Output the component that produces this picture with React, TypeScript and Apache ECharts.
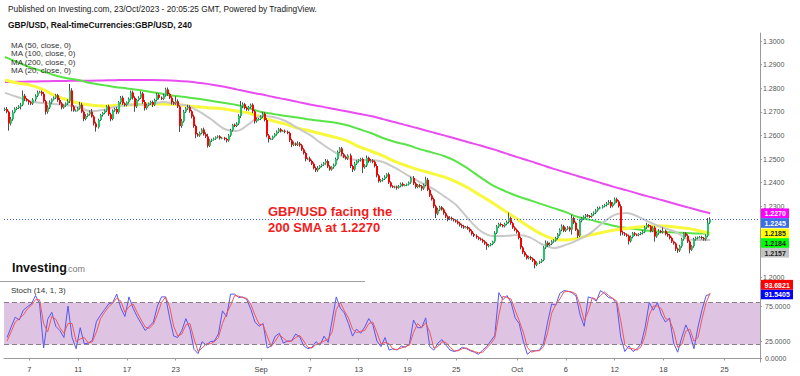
import React, { useEffect, useRef } from 'react';
import * as echarts from 'echarts';

const FONT = '"Liberation Sans", Arial, sans-serif';

// ---------- texts ----------
const headerLine1 = 'Published on Investing.com, 23/Oct/2023 - 20:05:25 GMT, Powered by TradingView.';
const headerLine2 = 'GBP/USD, Real-timeCurrencies:GBP/USD, 240';
const maLegend = ['MA (50, close, 0)', 'MA (100, close, 0)', 'MA (200, close, 0)', 'MA (20, close, 0)'];
const stochTitle = 'Stoch (14, 1, 3)';
const noteLines = ['GBP/USD facing the', '200 SMA at 1.2270'];

// ---------- axis ticks ----------
const tickDays = [2, 6, 10, 14, 21, 25, 29, 33, 37, 42, 46, 50, 54, 59];
const tickLabels = ['7', '11', '17', '23', 'Sep', '7', '13', '19', '25', 'Oct', '6', '12', '18', '25'];
const priceTicks = [1.2, 1.21, 1.22, 1.23, 1.24, 1.25, 1.26, 1.27, 1.28, 1.29, 1.3];
// 1.2100 and 1.2200 sit under the coloured price tags in the reference
const priceLabelTicks = [1.2, 1.23, 1.24, 1.25, 1.26, 1.27, 1.28, 1.29, 1.3];
const stochTicks = [0, 25, 75];
const stochBands = [20, 80];

// ---------- 4h candles (pips above 1.2000), 6 bars per trading day, 3 Aug - 23 Oct 2023 ----------
const firstOpen = 708;
const closes = [
  712, 700, 650, 668, 698, 713,
  716, 722, 730, 768, 755, 748,
  740, 735, 752, 768, 782, 785,
  776, 745, 700, 718, 740, 752,
  760, 770, 750, 735, 718, 727,
  735, 745, 790, 722, 705, 706,
  715, 730, 700, 670, 682, 690,
  700, 680, 650, 635, 665, 686,
  695, 705, 722, 690, 670, 705,
  712, 698, 740, 760, 735, 729,
  740, 755, 782, 760, 722, 750,
  760, 778, 742, 715, 728, 735,
  742, 730, 750, 772, 760, 755,
  770, 795, 775, 760, 740, 735,
  745, 722, 640, 660, 700, 714,
  720, 702, 680, 640, 605, 600,
  610, 625, 605, 595, 556, 578,
  582, 586, 592, 596, 588, 590,
  585, 578, 600, 622, 645, 640,
  650, 682, 725, 732, 716, 710,
  720, 730, 702, 660, 668, 670,
  680, 692, 665, 600, 585, 586,
  595, 605, 615, 626, 618, 620,
  615, 610, 580, 560, 566, 560,
  566, 558, 540, 525, 500, 502,
  492, 480, 462, 452, 462, 470,
  476, 482, 492, 468, 456, 465,
  476, 500, 530, 545, 520, 510,
  502, 515, 470, 456, 480, 490,
  495, 500, 465, 472, 505, 490,
  494, 488, 470, 430, 406, 410,
  415, 425, 435, 400, 385, 381,
  383, 378, 385, 395, 388, 390,
  392, 400, 420, 396, 381, 390,
  385, 375, 390, 412, 370, 345,
  330, 300, 268, 285, 296, 286,
  270, 256, 246, 250, 245, 240,
  235, 228, 220, 215, 210, 212,
  205, 195, 182, 175, 168, 162,
  158, 150, 142, 132, 135, 140,
  150, 188, 214, 225, 220, 215,
  225, 233, 250, 228, 210, 200,
  190, 165, 125, 105, 92, 80,
  85, 78, 70, 52, 60, 65,
  72, 125, 145, 135, 140, 150,
  155, 165, 180, 200, 215, 196,
  205, 210, 200, 250, 230, 200,
  175, 238, 248, 255, 262, 258,
  256, 266, 272, 282, 292, 295,
  300, 305, 312, 318, 300, 312,
  330, 320, 300, 190, 185, 180,
  175, 152, 170, 185, 180, 178,
  182, 186, 192, 210, 220, 215,
  195, 210, 172, 185, 195, 190,
  196, 182, 176, 165, 150, 142,
  120, 112, 130, 160, 185, 175,
  150, 116, 130, 160, 165, 168,
  170, 165, 160, 175, 230, 245,
];
const wickUp = [
  6, 8, 5, 10, 8, 6, 5, 6, 8, 22, 8, 4, 4, 5, 6, 6, 8, 4, 5, 8, 6, 10, 8, 5,
  5, 6, 6, 8, 6, 4, 5, 8, 28, 10, 6, 4, 5, 12, 8, 6, 8, 4, 6, 12, 6, 8, 6, 5,
  4, 5, 6, 8, 6, 5, 5, 8, 6, 7, 8, 5, 4, 6, 8, 8, 6, 5, 6, 9, 6, 8, 6, 4,
  5, 6, 6, 8, 6, 5, 6, 7, 8, 6, 6, 5, 20, 8, 6, 10, 8, 6, 10, 8, 6, 8, 6, 5,
  6, 5, 8, 8, 12, 6, 4, 5, 4, 4, 5, 3, 4, 5, 6, 6, 4, 5, 6, 8, 21, 8, 6, 5,
  5, 5, 6, 6, 8, 4, 5, 8, 6, 8, 6, 4, 4, 5, 6, 6, 5, 3, 5, 6, 6, 6, 8, 4,
  9, 6, 6, 6, 6, 4, 8, 5, 6, 6, 8, 4, 4, 5, 8, 6, 6, 4, 5, 6, 6, 5, 6, 5,
  5, 5, 8, 6, 8, 5, 4, 5, 6, 6, 10, 5, 6, 5, 6, 8, 6, 5, 5, 6, 5, 8, 6, 4,
  4, 4, 5, 5, 6, 3, 4, 5, 5, 8, 6, 4, 5, 5, 6, 13, 8, 6, 8, 6, 6, 8, 6, 5,
  6, 6, 5, 8, 6, 4, 5, 5, 6, 6, 6, 4, 5, 5, 6, 6, 6, 4, 5, 5, 6, 6, 5, 4,
  4, 6, 6, 5, 6, 4, 5, 6, 23, 6, 6, 5, 5, 6, 6, 6, 5, 5, 5, 5, 5, 6, 6, 4,
  5, 6, 10, 6, 6, 6, 5, 5, 6, 6, 8, 6, 5, 6, 5, 13, 6, 5, 5, 6, 6, 6, 5, 5,
  5, 5, 6, 6, 6, 4, 5, 5, 6, 8, 8, 5, 7, 6, 6, 8, 6, 5, 5, 5, 6, 6, 6, 4,
  4, 5, 6, 6, 10, 5, 5, 5, 6, 6, 8, 5, 14, 5, 6, 6, 6, 4, 5, 5, 6, 6, 5, 5,
  6, 6, 5, 6, 6, 4, 4, 5, 5, 6, 20, 8,
];
const wickDn = [
  5, 6, 30, 8, 6, 4, 6, 4, 12, 6, 10, 5, 10, 7, 6, 8, 6, 4, 8, 6, 12, 8, 6, 6,
  4, 6, 8, 6, 8, 5, 6, 6, 8, 20, 5, 4, 4, 6, 6, 10, 6, 5, 6, 5, 8, 19, 6, 4,
  6, 5, 6, 8, 10, 6, 5, 8, 6, 8, 6, 6, 6, 5, 6, 8, 22, 6, 5, 6, 8, 10, 6, 5,
  6, 10, 6, 6, 8, 5, 5, 6, 8, 6, 10, 6, 5, 6, 25, 8, 6, 5, 6, 6, 8, 8, 17, 6,
  6, 5, 6, 6, 8, 5, 6, 4, 5, 4, 6, 4, 6, 8, 5, 6, 6, 5, 5, 6, 8, 10, 6, 6,
  6, 6, 8, 10, 6, 5, 5, 6, 6, 8, 15, 5, 5, 4, 6, 5, 6, 4, 6, 5, 8, 10, 5, 5,
  5, 6, 6, 6, 10, 5, 5, 6, 6, 7, 6, 5, 5, 5, 6, 6, 6, 5, 6, 5, 6, 6, 6, 6,
  5, 6, 8, 11, 6, 5, 5, 6, 25, 6, 6, 6, 5, 6, 6, 8, 6, 5, 6, 4, 6, 6, 6, 4,
  5, 8, 4, 5, 5, 4, 5, 4, 5, 6, 6, 5, 6, 10, 6, 6, 6, 6, 6, 8, 18, 6, 6, 5,
  6, 6, 10, 5, 6, 5, 5, 5, 6, 8, 6, 4, 5, 6, 6, 6, 6, 6, 4, 5, 6, 17, 6, 5,
  5, 5, 6, 6, 6, 5, 5, 6, 6, 6, 6, 6, 6, 6, 8, 8, 6, 6, 5, 6, 6, 15, 6, 5,
  6, 5, 6, 8, 5, 5, 5, 5, 6, 6, 6, 6, 5, 5, 8, 20, 6, 5, 10, 6, 6, 5, 6, 5,
  6, 5, 6, 6, 5, 5, 5, 5, 6, 6, 8, 5, 5, 6, 6, 15, 8, 6, 6, 14, 6, 6, 6, 5,
  5, 5, 6, 6, 6, 5, 6, 5, 22, 6, 6, 5, 6, 6, 6, 6, 6, 5, 10, 10, 6, 6, 6, 6,
  6, 16, 6, 6, 6, 5, 5, 6, 6, 6, 6, 6,
];

// ---------- moving averages, read once per trading day (first bar of day) + last bar ----------
const ma200 = [
  1.2826, 1.2827, 1.2828, 1.2829, 1.283, 1.2831, 1.2832, 1.2832, 1.2833, 1.2834,
  1.2835, 1.2835, 1.2835, 1.2834, 1.2832, 1.2828, 1.2822, 1.2815, 1.2806, 1.2795,
  1.2784, 1.2774, 1.2763, 1.2753, 1.2742, 1.2731, 1.2722, 1.2712, 1.2702, 1.2692,
  1.2682, 1.2669, 1.2656, 1.2642, 1.2628, 1.2614, 1.26, 1.2586, 1.2571, 1.2557,
  1.2542, 1.2525, 1.2508, 1.2492, 1.2475, 1.2458, 1.2443, 1.2427, 1.2412, 1.2396,
  1.2381, 1.2367, 1.2352, 1.2338, 1.2324, 1.2309, 1.2295, 1.2281, 1.227,
];
const ma100 = [
  1.2932, 1.2911, 1.289, 1.2873, 1.2856, 1.2843, 1.2835, 1.2822, 1.2814, 1.2805,
  1.2799, 1.2792, 1.2784, 1.2775, 1.2767, 1.2761, 1.2754, 1.2746, 1.2737, 1.2729,
  1.2716, 1.2699, 1.2691, 1.2682, 1.2676, 1.2667, 1.2661, 1.2655, 1.2644, 1.2627,
  1.261, 1.2589, 1.2572, 1.2559, 1.2542, 1.2528, 1.2513, 1.249, 1.2458, 1.2422,
  1.2388, 1.2364, 1.2343, 1.2326, 1.2309, 1.2292, 1.2275, 1.2254, 1.2242, 1.2229,
  1.2216, 1.2208, 1.2201, 1.2195, 1.2191, 1.2189, 1.2186, 1.2184, 1.2184,
];
const ma50 = [
  1.2835, 1.2822, 1.2814, 1.2797, 1.2771, 1.2752, 1.2737, 1.2729, 1.2725, 1.2727,
  1.2729, 1.2731, 1.2733, 1.2733, 1.2731, 1.2725, 1.272, 1.2716, 1.2712, 1.2703,
  1.2695, 1.2678, 1.2661, 1.2648, 1.2631, 1.2619, 1.2606, 1.2593, 1.2578, 1.2553,
  1.2534, 1.2513, 1.2489, 1.247, 1.2453, 1.2439, 1.2424, 1.2403, 1.2377, 1.2345,
  1.2314, 1.228, 1.2246, 1.2212, 1.2182, 1.2161, 1.2157, 1.2165, 1.2178, 1.2189,
  1.2199, 1.2206, 1.2212, 1.2216, 1.2216, 1.2212, 1.2206, 1.2195, 1.2185,
];
const ma20 = [
  1.278, 1.2763, 1.2746, 1.2737, 1.2733, 1.2729, 1.272, 1.2703, 1.2708, 1.272,
  1.2729, 1.2731, 1.2733, 1.2742, 1.2733, 1.2725, 1.2699, 1.2665, 1.2627, 1.2619,
  1.2648, 1.2682, 1.2678, 1.2661, 1.2631, 1.2602, 1.2564, 1.253, 1.2504, 1.2496,
  1.2496, 1.2487, 1.2462, 1.2432, 1.2403, 1.2377, 1.2343, 1.2305, 1.2246, 1.2195,
  1.2174, 1.2174, 1.2178, 1.2169, 1.214, 1.2123, 1.2136, 1.2157, 1.2186, 1.2229,
  1.2263, 1.2271, 1.2254, 1.2229, 1.2208, 1.2191, 1.2161, 1.2157, 1.2157,
];

// ---------- stochastic, read every second bar (bars 1, 3, 5, ... 347) ----------
const stochK = [
  30, 45, 59, 55, 69, 74, 78, 90, 78, 15, 56, 66, 46, 40, 30, 75, 30, 14, 44, 21,
  22, 26, 53, 62, 70, 78, 80, 92, 72, 60, 88, 72, 60, 50, 40, 46, 52, 75, 88, 88,
  58, 32, 30, 40, 57, 42, 13, 7, 24, 19, 24, 25, 35, 68, 60, 92, 92, 87, 88, 84,
  70, 52, 46, 50, 15, 18, 32, 36, 22, 25, 25, 35, 31, 18, 14, 16, 24, 19, 32, 23,
  55, 88, 72, 65, 50, 32, 42, 36, 45, 57, 48, 25, 17, 30, 12, 14, 12, 18, 16, 21,
  55, 44, 44, 58, 17, 12, 22, 27, 19, 12, 10, 12, 16, 14, 11, 9, 6, 12, 17, 25,
  33, 94, 84, 90, 80, 58, 50, 25, 6, 11, 11, 12, 22, 52, 78, 76, 93, 97, 96, 94,
  89, 62, 46, 88, 86, 82, 97, 93, 87, 86, 78, 30, 10, 18, 10, 14, 21, 45, 80, 69,
  80, 62, 52, 58, 22, 9, 30, 48, 35, 14, 45, 70, 90, 91.5405,
];
const stochD = [
  25, 38, 52, 57, 62, 71, 76, 84, 84, 50, 38, 60, 56, 44, 36, 50, 50, 24, 28, 30,
  22, 24, 38, 57, 66, 74, 79, 86, 82, 66, 74, 78, 66, 55, 45, 43, 49, 63, 80, 88,
  74, 46, 32, 35, 48, 50, 28, 10, 15, 21, 21, 24, 30, 50, 64, 76, 90, 89, 87, 86,
  77, 62, 49, 48, 32, 17, 25, 34, 29, 24, 25, 30, 33, 25, 16, 15, 20, 22, 25, 28,
  38, 70, 80, 68, 58, 42, 37, 39, 40, 50, 52, 37, 21, 23, 21, 13, 13, 15, 17, 19,
  37, 50, 44, 51, 38, 15, 17, 24, 23, 16, 11, 11, 14, 15, 12, 10, 8, 9, 15, 21,
  29, 62, 89, 87, 85, 69, 54, 38, 16, 9, 11, 11, 17, 37, 65, 77, 85, 95, 96, 95,
  92, 76, 54, 67, 87, 84, 90, 95, 90, 86, 82, 54, 20, 14, 14, 12, 17, 33, 62, 75,
  75, 71, 57, 55, 40, 16, 20, 39, 42, 25, 30, 57, 80, 93.6821,
];

// ---------- derived structures ----------
const BARS_PER_DAY = 6;
const BARS = closes.length;
const DAYS = BARS / BARS_PER_DAY;
const N_CATS = 372;
const toPrice = (p: number) => +(1.2 + p / 10000).toFixed(4);

const cats = Array.from({ length: N_CATS }, (_, i) => String(i));
const labelAt: Record<number, string> = {};
tickDays.forEach((d, j) => { labelAt[d * BARS_PER_DAY] = tickLabels[j]; });

const candles = closes.map((c, i) => {
  const o = i === 0 ? firstOpen : closes[i - 1];
  const hi = Math.max(o, c) + wickUp[i];
  const lo = Math.min(o, c) - wickDn[i];
  return [i, toPrice(o), toPrice(c), toPrice(lo), toPrice(hi)];
});
const lastClose = toPrice(closes[BARS - 1]);

const maPoints = (arr: number[]) => arr.map((v, k) => [k < DAYS ? k * BARS_PER_DAY : BARS - 1, v]);
const stochPoints = (arr: number[]) => arr.map((v, k) => [2 * k + 1, v]);

const C = {
  up: '#26c46a', down: '#ff0000', wick: '#4d4d4d',
  ma200: '#e94cf0', ma100: '#58e447', ma50: '#f8f83c', ma20: '#c9c9c9',
  axis: '#9a9a9a', text: '#444',
  band: '#dec4e2', bandLine: '#8a7e8a',
  k: '#5656f2', d: '#f25656', last: '#3a5ee8',
};

function buildOption(): any {
  const lineS = (data: any[], color: string, width: number, z: number) => ({
    type: 'line', xAxisIndex: 0, yAxisIndex: 0, data, showSymbol: false, symbol: 'none', smooth: 0.35,
    lineStyle: { color, width }, z, silent: true,
  });
  const tickInterval = (idx: number) => labelAt[idx] !== undefined;
  return {
    animation: false,
    backgroundColor: '#ffffff',
    grid: [
      { left: 4, right: 40, top: 33, height: 248 },
      { left: 4, right: 40, top: 282, height: 80 },
    ],
    xAxis: [
      { type: 'category', gridIndex: 0, data: cats, boundaryGap: true,
        axisLine: { show: false }, axisTick: { show: false }, axisLabel: { show: false }, splitLine: { show: false } },
      { type: 'category', gridIndex: 1, data: cats, boundaryGap: true,
        axisLine: { show: true, lineStyle: { color: C.axis, width: 1 } },
        axisTick: { show: true, interval: tickInterval, alignWithLabel: true, length: 2, lineStyle: { color: C.axis } },
        axisLabel: { show: true, interval: tickInterval, formatter: (_v: string, idx: number) => labelAt[idx] ?? '',
          fontSize: 7.5, fontFamily: FONT, color: C.text, margin: 3 },
        splitLine: { show: false } },
    ],
    yAxis: [
      { type: 'value', gridIndex: 0, position: 'right', min: 1.19831, max: 1.30339,
        axisLine: { show: true, lineStyle: { color: C.axis, width: 1 } },
        axisTick: { show: true, length: 2, customValues: priceTicks, lineStyle: { color: C.axis } },
        axisLabel: { show: true, customValues: priceLabelTicks, formatter: (v: number) => v.toFixed(4),
          fontSize: 7, fontFamily: FONT, color: '#555', margin: 3 },
        splitLine: { show: false } },
      { type: 'value', gridIndex: 1, position: 'right', min: -5, max: 109.29,
        axisLine: { show: true, lineStyle: { color: C.axis, width: 1 } },
        axisTick: { show: true, length: 2, customValues: stochTicks, lineStyle: { color: C.axis } },
        axisLabel: { show: false },
        splitLine: { show: false } },
    ],
    series: [
      lineS(maPoints(ma200), C.ma200, 2, 2),
      lineS(maPoints(ma100), C.ma100, 2, 2),
      lineS(maPoints(ma50), C.ma50, 3, 2),
      lineS(maPoints(ma20), C.ma20, 2, 2),
      {
        type: 'custom', xAxisIndex: 0, yAxisIndex: 0, z: 4, silent: true,
        data: candles,
        encode: { x: 0, y: [1, 2, 3, 4] },
        renderItem: (_params: any, api: any) => {
          const i = api.value(0);
          const o = api.value(1), c = api.value(2), l = api.value(3), h = api.value(4);
          const pO = api.coord([i, o]);
          const pC = api.coord([i, c]);
          const pL = api.coord([i, l]);
          const pH = api.coord([i, h]);
          const x0 = Math.floor(pO[0] - 0.5);
          const top = Math.min(pO[1], pC[1]);
          const bh = Math.max(Math.abs(pO[1] - pC[1]), 1);
          return {
            type: 'group',
            children: [
              { type: 'line', shape: { x1: x0 + 0.5, y1: pH[1], x2: x0 + 0.5, y2: pL[1] },
                style: { stroke: C.wick, lineWidth: 1 } },
              { type: 'rect', shape: { x: x0, y: top, width: 2, height: bh },
                style: { fill: c >= o ? C.up : C.down } },
            ],
          };
        },
      },
      {
        type: 'line', xAxisIndex: 1, yAxisIndex: 1, data: [], z: 1, silent: true,
        markArea: { silent: true, itemStyle: { color: C.band }, data: [[{ yAxis: stochBands[0] }, { yAxis: stochBands[1] }]] },
        markLine: { silent: true, symbol: 'none', label: { show: false },
          lineStyle: { color: C.bandLine, type: [5, 3], width: 1 },
          data: stochBands.map((b) => ({ yAxis: b })) },
      },
      { type: 'line', xAxisIndex: 1, yAxisIndex: 1, data: stochPoints(stochK), showSymbol: false, symbol: 'none',
        lineStyle: { color: C.k, width: 1 }, z: 3, silent: true },
      { type: 'line', xAxisIndex: 1, yAxisIndex: 1, data: stochPoints(stochD), showSymbol: false, symbol: 'none',
        lineStyle: { color: C.d, width: 1 }, z: 4, silent: true },
    ],
  };
}

function txt(id: string, x: number, y: number, text: string, size: number, color: string, weight: any = 'normal') {
  return {
    id, type: 'text', x, y, z: 100, silent: true,
    style: { text, fontSize: size, fontFamily: FONT, fontWeight: weight, fill: color,
      textVerticalAlign: 'middle', verticalAlign: 'middle', textAlign: 'left', align: 'left' },
  };
}

function buildGraphics(chart: any): any[] {
  const g: any[] = [];
  g.push(txt('h1', 8, 9, headerLine1, 8.3, '#222'));
  g.push(txt('h2', 8, 24.5, headerLine2, 8.4, '#111', 'bold'));
  maLegend.forEach((t, k) => g.push(txt('ma' + k, 11, 45 + k * 8.6, t, 8, '#333')));
  g.push(txt('logo1', 12, 267.5, 'Investing', 12.5, '#111', 900));
  g.push(txt('logo2', 65.5, 269, '.com', 9, '#7a7a7a'));
  g.push(txt('stt', 11, 290.5, stochTitle, 8, '#333'));
  noteLines.forEach((t, k) => g.push(txt('note' + k, 268, 211.5 + k * 15.8, t, 13, '#f21c1c', 'bold')));
  g.push({ id: 'sep', type: 'line', z: 50, silent: true, shape: { x1: 0, y1: 281.5, x2: 365, y2: 281.5 },
    style: { stroke: '#a0a0a0', lineWidth: 1 } });

  // last-price dotted line
  const yLast = Math.round(chart.convertToPixel({ yAxisIndex: 0 }, lastClose)) + 0.5;
  g.push({ id: 'lastLine', type: 'line', z: 60, silent: true,
    shape: { x1: 4, y1: yLast, x2: 760, y2: yLast },
    style: { stroke: C.last, lineWidth: 1, lineDash: [1, 2] } });

  // stochastic axis labels
  stochTicks.forEach((v, k) => {
    const y = chart.convertToPixel({ yAxisIndex: 1 }, v);
    g.push(txt('sl' + k, 765, y, v.toFixed(4), 7, '#555'));
  });

  // price tags on the right axis
  const BOX_H = 9.7;
  const mainTags = [
    { v: ma200[ma200.length - 1], bg: '#ff00ff', fg: '#ffffff' },
    { v: lastClose, bg: '#3b6ee6', fg: '#ffffff' },
    { v: ma50[ma50.length - 1], bg: '#ffff00', fg: '#222222' },
    { v: ma100[ma100.length - 1], bg: '#00ff00', fg: '#222222' },
    { v: ma20[ma20.length - 1], bg: '#c3c3c3', fg: '#222222' },
  ].sort((a, b) => b.v - a.v);
  let prev = -Infinity;
  mainTags.forEach((t, k) => {
    let y = chart.convertToPixel({ yAxisIndex: 0 }, t.v);
    y = Math.max(y, prev + BOX_H);
    prev = y;
    g.push({ id: 'mt' + k, type: 'rect', z: 110, silent: true,
      shape: { x: 761, y: y - BOX_H / 2, width: 28, height: BOX_H }, style: { fill: t.bg } });
    g.push({ ...txt('mtt' + k, 764.5, y + 0.3, t.v.toFixed(4), 7, t.fg, 'bold'), z: 111 });
  });
  const stochTags = [
    { v: stochK[stochK.length - 1], bg: '#0000ff', fg: '#ffffff' },
    { v: stochD[stochD.length - 1], bg: '#ff0000', fg: '#ffffff' },
  ].sort((a, b) => a.v - b.v);
  let prevS = Infinity;
  stochTags.forEach((t, k) => {
    let y = chart.convertToPixel({ yAxisIndex: 1 }, t.v);
    y = Math.min(y, prevS - BOX_H);
    prevS = y;
    g.push({ id: 'st' + k, type: 'rect', z: 110, silent: true,
      shape: { x: 761, y: y - BOX_H / 2, width: 32, height: BOX_H }, style: { fill: t.bg } });
    g.push({ ...txt('stt' + k, 764.5, y + 0.3, t.v.toFixed(4), 7, t.fg, 'bold'), z: 111 });
  });
  return g;
}

export default function App() {
  const ref = useRef<HTMLDivElement>(null);
  useEffect(() => {
    if (!ref.current) return;
    const chart = echarts.init(ref.current, undefined, { renderer: 'svg' });
    chart.setOption(buildOption());
    chart.setOption({ graphic: buildGraphics(chart) });
    return () => chart.dispose();
  }, []);
  return (
    <div
      ref={ref}
      style={{ position: 'fixed', left: 0, top: 0, width: 800, height: 376, background: '#ffffff' }}
    />
  );
}
